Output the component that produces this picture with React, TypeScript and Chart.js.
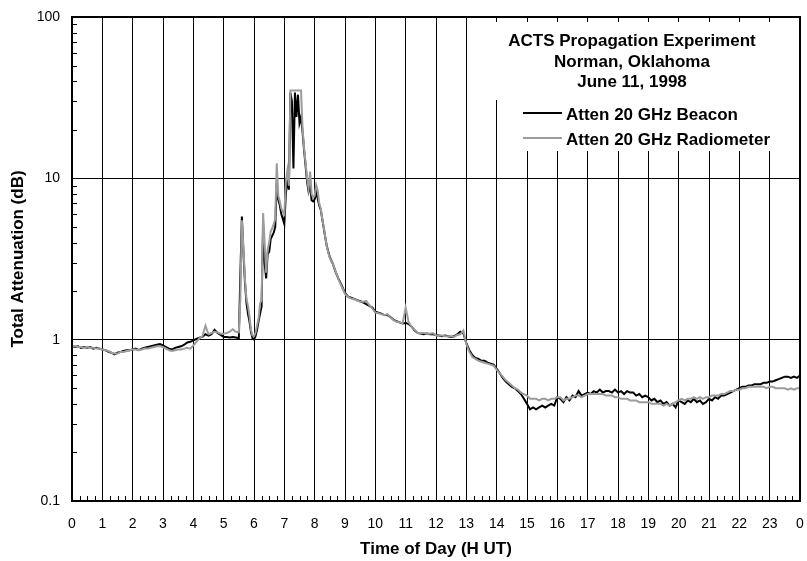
import React, { useEffect, useRef } from "react";
import { Chart, registerables } from "chart.js";

Chart.register(...registerables);

const FONT = '"Liberation Sans", Arial, Helvetica, sans-serif';

const titleLines = ["ACTS Propagation Experiment", "Norman, Oklahoma", "June 11, 1998"];
const seriesNames = ["Atten 20 GHz Beacon", "Atten 20 GHz Radiometer"];
const seriesColors = ["#000000", "#9c9c9c"];
const xAxisTitle = "Time of Day (H UT)";
const yAxisTitle = "Total Attenuation (dB)";

const xTickValues = [0, 1, 2, 3, 4, 5, 6, 7, 8, 9, 10, 11, 12, 13, 14, 15, 16, 17, 18, 19, 20, 21, 22, 23, 24];
const xTickLabels = ["0", "1", "2", "3", "4", "5", "6", "7", "8", "9", "10", "11", "12", "13", "14", "15", "16", "17", "18", "19", "20", "21", "22", "23", "0"];
const yTickValues = [0.1, 1, 10, 100];
const yTickLabels = ["0.1", "1", "10", "100"];

// Early hours (0 - 5.5 h)
const hoursEarly = [0, 0.1, 0.2, 0.3, 0.4, 0.5, 0.6, 0.7, 0.8, 0.9, 1, 1.1, 1.2, 1.3, 1.4, 1.5, 1.6, 1.7, 1.8, 1.9, 2, 2.1, 2.2, 2.3, 2.4, 2.5, 2.6, 2.7, 2.8, 2.9, 3, 3.1, 3.2, 3.3, 3.4, 3.5, 3.6, 3.7, 3.8, 3.9, 4, 4.1, 4.2, 4.3, 4.4, 4.5, 4.6, 4.7, 4.8, 4.9, 5, 5.1, 5.2, 5.3, 5.4, 5.5];
const beaconEarly = [
  0.91, 0.9, 0.91, 0.89, 0.9, 0.89, 0.9, 0.88, 0.89, 0.88,
  0.87, 0.86, 0.84, 0.83, 0.81, 0.83, 0.84, 0.85, 0.86, 0.86,
  0.87, 0.88, 0.86, 0.88, 0.89, 0.9, 0.91, 0.92, 0.93, 0.94,
  0.92, 0.9, 0.88, 0.87, 0.89, 0.9, 0.91, 0.93, 0.96, 0.97,
  0.99, 1.01, 1.03, 1.04, 1.08, 1.06, 1.08, 1.15, 1.1, 1.07,
  1.04, 1.04, 1.03, 1.04, 1.03, 1.02,
];
const radiometerEarly = [
  0.9, 0.91, 0.9, 0.9, 0.89, 0.9, 0.89, 0.89, 0.88, 0.88,
  0.87, 0.86, 0.85, 0.83, 0.82, 0.82, 0.84, 0.84, 0.85, 0.86,
  0.87, 0.87, 0.86, 0.87, 0.88, 0.88, 0.89, 0.9, 0.91, 0.91,
  0.9, 0.88, 0.86, 0.85, 0.86, 0.87, 0.87, 0.88, 0.89, 0.88,
  0.92, 0.97, 1.02, 1.05, 1.22, 1.08, 1.1, 1.12, 1.11, 1.09,
  1.09, 1.1, 1.12, 1.16, 1.12, 1.11,
];

// Storm (5.55 - 8.5 h)
const hoursStorm = [
  5.55, 5.6, 5.65, 5.7, 5.75, 5.8, 5.85, 5.9, 5.95, 6,
  6.05, 6.1, 6.15, 6.2, 6.25, 6.3, 6.35, 6.4, 6.45, 6.5,
  6.55, 6.6, 6.65, 6.7, 6.75, 6.8, 6.85, 6.9, 6.95, 7,
  7.05, 7.1, 7.15, 7.2, 7.25, 7.3, 7.35, 7.4, 7.45, 7.5,
  7.55, 7.6, 7.65, 7.7, 7.75, 7.8, 7.85, 7.9, 7.95, 8,
  8.05, 8.1, 8.15, 8.2, 8.25, 8.3, 8.35, 8.4, 8.45, 8.5,
];
const beaconStorm = [
  2.5, 5.8, 3.5, 2.3, 1.7, 1.45, 1.3, 1.12, 1.02, 1.0,
  1.05, 1.15, 1.3, 1.45, 1.6, 5.2, 3.0, 2.4, 3.4, 3.5,
  4.2, 4.4, 4.6, 5.0, 9.5, 7.4, 6.8, 6.0, 5.6, 5.2,
  8.0, 9.8, 8.5, 34, 30, 11.5, 34, 24, 33, 22,
  24, 19.5, 15, 12, 9.5, 8.3, 9.0, 7.3, 7.2, 7.4,
  8.2, 7.5, 6.8, 6.4, 5.6, 4.9, 4.3, 3.8, 3.5, 3.25,
];
const radiometerStorm = [
  1.8, 5.5, 3.8, 2.4, 1.8, 1.62, 1.4, 1.15, 1.06, 1.05,
  1.1, 1.22, 1.35, 1.68, 1.75, 6.1, 4.0, 2.6, 3.6, 4.0,
  4.7, 4.9, 5.2, 5.6, 12.4, 7.8, 7.2, 6.5, 6.2, 6.0,
  9.5, 11.2, 9.0, 35, 35, 35, 35, 35, 35, 35,
  35, 20.5, 15.5, 12.5, 10, 8.6, 11.0, 8.0, 7.6, 7.8,
  9.1, 8.4, 7.0, 6.5, 5.6, 5.0, 4.3, 3.8, 3.45, 3.2,
];

// Late hours (8.6 - 24 h)
const hoursLate = [
  8.6, 8.7, 8.8, 8.9, 9, 9.1, 9.2, 9.3, 9.4, 9.5,
  9.6, 9.7, 9.8, 9.9, 10, 10.1, 10.2, 10.3, 10.4, 10.5,
  10.6, 10.7, 10.8, 10.9, 11, 11.1, 11.2, 11.3, 11.4, 11.5,
  11.6, 11.7, 11.8, 11.9, 12, 12.1, 12.2, 12.3, 12.4, 12.5,
  12.6, 12.7, 12.8, 12.9, 13, 13.1, 13.2, 13.3, 13.4, 13.5,
  13.6, 13.7, 13.8, 13.9, 14, 14.1, 14.2, 14.3, 14.4, 14.5,
  14.6, 14.7, 14.8, 14.9, 15, 15.1, 15.2, 15.3, 15.4, 15.5,
  15.6, 15.7, 15.8, 15.9, 16, 16.1, 16.2, 16.3, 16.4, 16.5,
  16.6, 16.7, 16.8, 16.9, 17, 17.1, 17.2, 17.3, 17.4, 17.5,
  17.6, 17.7, 17.8, 17.9, 18, 18.1, 18.2, 18.3, 18.4, 18.5,
  18.6, 18.7, 18.8, 18.9, 19, 19.1, 19.2, 19.3, 19.4, 19.5,
  19.6, 19.7, 19.8, 19.9, 20, 20.1, 20.2, 20.3, 20.4, 20.5,
  20.6, 20.7, 20.8, 20.9, 21, 21.1, 21.2, 21.3, 21.4, 21.5,
  21.6, 21.7, 21.8, 21.9, 22, 22.1, 22.2, 22.3, 22.4, 22.5,
  22.6, 22.7, 22.8, 22.9, 23, 23.1, 23.2, 23.3, 23.4, 23.5,
  23.6, 23.7, 23.8, 23.9, 24,
];
const beaconLate = [
  2.95, 2.6, 2.35, 2.15, 1.95, 1.85, 1.82, 1.79, 1.76, 1.73,
  1.7, 1.66, 1.62, 1.58, 1.49, 1.47, 1.45, 1.42, 1.42, 1.38,
  1.33, 1.3, 1.28, 1.26, 1.27, 1.25, 1.2, 1.14, 1.1, 1.09,
  1.08, 1.09, 1.08, 1.08, 1.07, 1.06, 1.05, 1.06, 1.05, 1.04,
  1.05, 1.08, 1.12, 1.1, 0.95, 0.86, 0.8, 0.77, 0.76, 0.74,
  0.74, 0.72, 0.71, 0.7, 0.66, 0.62, 0.58, 0.55, 0.53, 0.51,
  0.5, 0.48, 0.46, 0.43, 0.4, 0.37, 0.38, 0.37, 0.38, 0.39,
  0.38, 0.39, 0.4, 0.39, 0.44, 0.43, 0.41, 0.44, 0.42, 0.45,
  0.44, 0.48, 0.45, 0.46, 0.47, 0.46, 0.48, 0.47, 0.49, 0.47,
  0.48, 0.48, 0.47, 0.49, 0.47, 0.48, 0.46, 0.48, 0.47, 0.47,
  0.45, 0.46, 0.44, 0.45, 0.44, 0.42, 0.43, 0.41, 0.42, 0.4,
  0.41, 0.39, 0.4, 0.38, 0.42, 0.41, 0.4, 0.42, 0.41, 0.43,
  0.41, 0.42, 0.4, 0.41, 0.43, 0.42, 0.44, 0.43, 0.45, 0.45,
  0.46, 0.47, 0.48, 0.49, 0.5, 0.51, 0.51, 0.52, 0.52, 0.53,
  0.53, 0.53, 0.54, 0.54, 0.55, 0.55, 0.56, 0.57, 0.58, 0.59,
  0.59, 0.58, 0.59, 0.58, 0.6,
];
const radiometerLate = [
  2.95, 2.62, 2.33, 2.12, 1.92, 1.84, 1.8, 1.78, 1.75, 1.72,
  1.72, 1.74, 1.64, 1.56, 1.47, 1.46, 1.44, 1.42, 1.44, 1.37,
  1.32, 1.29, 1.28, 1.26, 1.58, 1.28, 1.2, 1.15, 1.1, 1.1,
  1.1, 1.09, 1.09, 1.1, 1.06, 1.06, 1.06, 1.05, 1.05, 1.05,
  1.04, 1.07, 1.08, 1.14, 0.94, 0.84, 0.78, 0.76, 0.74, 0.73,
  0.72, 0.71, 0.7, 0.69, 0.65, 0.62, 0.59, 0.56, 0.54, 0.52,
  0.5, 0.49, 0.47, 0.46, 0.45, 0.43, 0.43, 0.43, 0.42, 0.43,
  0.43, 0.42, 0.43, 0.43, 0.44, 0.44, 0.42, 0.43, 0.43, 0.44,
  0.45, 0.45, 0.44, 0.45, 0.46, 0.46, 0.46, 0.46, 0.46, 0.46,
  0.45, 0.45, 0.45, 0.44, 0.44, 0.43, 0.43, 0.43, 0.42, 0.42,
  0.42, 0.41, 0.41, 0.41, 0.41, 0.4, 0.4, 0.4, 0.4, 0.39,
  0.4, 0.39, 0.4, 0.41, 0.42, 0.43, 0.42, 0.43, 0.43, 0.44,
  0.43, 0.44, 0.43, 0.44, 0.44, 0.45, 0.45, 0.45, 0.46, 0.46,
  0.47, 0.48, 0.48, 0.49, 0.49, 0.5, 0.5, 0.51, 0.51, 0.51,
  0.51, 0.51, 0.51, 0.5, 0.51, 0.51, 0.5, 0.5, 0.5, 0.5,
  0.49, 0.5, 0.49, 0.5, 0.5,
];

const hours = [...hoursEarly, ...hoursStorm, ...hoursLate];
const beacon = [...beaconEarly, ...beaconStorm, ...beaconLate];
const radiometer = [...radiometerEarly, ...radiometerStorm, ...radiometerLate];

const overlayPlugin = {
  id: "overlay",
  beforeDatasetsDraw(chart: any) {
    const { ctx, chartArea: ca, scales } = chart;
    const xs = scales.x;
    const ys = scales.y;
    ctx.save();
    // minor ticks
    ctx.strokeStyle = "#000";
    ctx.lineWidth = 1;
    ctx.beginPath();
    for (let h = 0; h < 24; h++) {
      for (let q = 1; q < 4; q++) {
        const px = Math.round(xs.getPixelForValue(h + q / 4)) + 0.5;
        ctx.moveTo(px, ca.bottom);
        ctx.lineTo(px, ca.bottom - 5);
      }
    }
    for (let d = 0; d < yTickValues.length - 1; d++) {
      for (let m = 2; m <= 9; m++) {
        const py = Math.round(ys.getPixelForValue(yTickValues[d] * m)) + 0.5;
        ctx.moveTo(ca.left, py);
        ctx.lineTo(ca.left + 5, py);
      }
    }
    ctx.stroke();

    // white boxes behind title and legend
    ctx.fillStyle = "#ffffff";
    ctx.fillRect(ca.right - 320, ca.top + 5, 315, 78);
    ctx.fillRect(ca.right - 295, ca.top + 83, 290, 51);

    // title
    ctx.fillStyle = "#000";
    ctx.font = `bold 17px ${FONT}`;
    ctx.textAlign = "center";
    ctx.textBaseline = "alphabetic";
    const tx = ca.right - 168;
    titleLines.forEach((t, i) => {
      ctx.fillText(t, tx, ca.top + 29 + i * 20.5);
    });

    // legend
    ctx.textAlign = "left";
    chart.data.datasets.forEach((ds: any, i: number) => {
      const ly = ca.top + 96 + i * 25;
      ctx.strokeStyle = ds.borderColor;
      ctx.lineWidth = 2;
      ctx.beginPath();
      ctx.moveTo(ca.right - 277, ly);
      ctx.lineTo(ca.right - 238, ly);
      ctx.stroke();
      ctx.fillStyle = "#000";
      ctx.fillText(ds.label, ca.right - 234, ly + 6.5);
    });
    ctx.restore();
  },
  afterDatasetsDraw(chart: any) {
    const { ctx, chartArea: ca } = chart;
    ctx.save();
    ctx.strokeStyle = "#000";
    ctx.lineWidth = 2;
    ctx.strokeRect(ca.left, ca.top, ca.right - ca.left, ca.bottom - ca.top);
    ctx.restore();
  },
};

export default function App() {
  const ref = useRef<HTMLCanvasElement | null>(null);
  useEffect(() => {
    if (!ref.current) return;
    const chart = new Chart(ref.current, {
      type: "line",
      data: {
        datasets: [
          {
            label: seriesNames[0],
            data: hours.map((h, i) => ({ x: h, y: beacon[i] })),
            borderColor: seriesColors[0],
            borderWidth: 2,
            pointRadius: 0,
            tension: 0,
            fill: false,
            order: 1,
          },
          {
            label: seriesNames[1],
            data: hours.map((h, i) => ({ x: h, y: radiometer[i] })),
            borderColor: seriesColors[1],
            borderWidth: 2,
            pointRadius: 0,
            tension: 0,
            fill: false,
            order: 0,
          },
        ],
      },
      options: {
        animation: false,
        responsive: false,
        devicePixelRatio: 1,
        events: [],
        layout: { padding: { left: 0, top: 17, right: 7, bottom: 0 } },
        plugins: {
          legend: { display: false },
          tooltip: { enabled: false },
          title: { display: false },
        },
        scales: {
          x: {
            type: "linear",
            min: 0,
            max: 24,
            afterBuildTicks: (scale: any) => {
              scale.ticks = xTickValues.map((v) => ({ value: v }));
            },
            afterFit: (scale: any) => {
              scale.height = 60;
              scale.paddingLeft = 0;
              scale.paddingRight = 0;
            },
            ticks: {
              autoSkip: false,
              maxRotation: 0,
              padding: 15,
              color: "#000",
              font: { family: FONT, size: 14 },
              callback: (_v: any, i: number) => xTickLabels[i],
            },
            grid: { color: "#000", lineWidth: 1, drawTicks: false },
            border: { display: false },
            title: {
              display: true,
              text: xAxisTitle,
              color: "#000",
              font: { family: FONT, size: 17, weight: "bold" },
              padding: { top: 0, bottom: 1 },
            },
          },
          y: {
            type: "logarithmic",
            min: 0.1,
            max: 100,
            afterBuildTicks: (scale: any) => {
              scale.ticks = yTickValues.map((v) => ({ value: v }));
            },
            afterFit: (scale: any) => {
              scale.width = 72;
              scale.paddingTop = 0;
              scale.paddingBottom = 0;
            },
            ticks: {
              autoSkip: false,
              padding: 12,
              color: "#000",
              font: { family: FONT, size: 14 },
              callback: (_v: any, i: number) => yTickLabels[i],
            },
            grid: { color: "#000", lineWidth: 1, drawTicks: false },
            border: { display: false },
            title: {
              display: true,
              text: yAxisTitle,
              color: "#000",
              font: { family: FONT, size: 17, weight: "bold" },
              padding: { top: 8, bottom: 0 },
            },
          },
        },
      },
      plugins: [overlayPlugin],
    } as any);
    return () => chart.destroy();
  }, []);

  return (
    <div style={{ position: "absolute", left: 0, top: 0, width: 807, height: 561, background: "#fff" }}>
      <canvas ref={ref} width={807} height={561} style={{ display: "block", width: 807, height: 561 }} />
    </div>
  );
}
